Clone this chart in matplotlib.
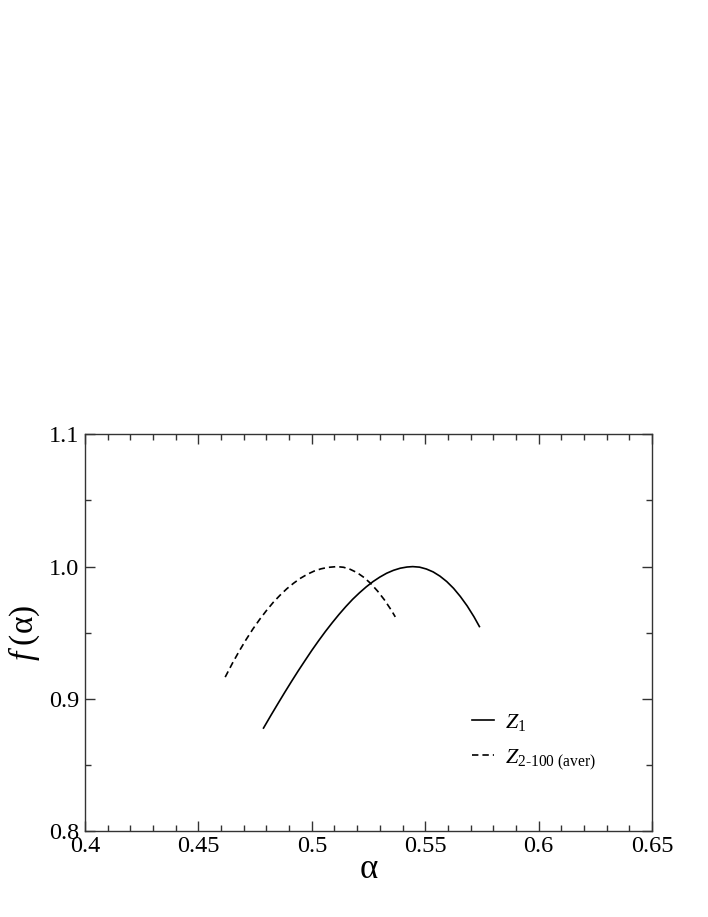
import numpy as np
import matplotlib
matplotlib.use('Agg')
import matplotlib.pyplot as plt
from matplotlib.ticker import MultipleLocator, FormatStrFormatter, FuncFormatter

plt.rcParams['font.family'] = ['Liberation Serif', 'DejaVu Serif']
plt.rcParams['mathtext.fontset'] = 'custom'
plt.rcParams['mathtext.rm'] = 'Liberation Serif'
plt.rcParams['mathtext.it'] = 'Liberation Serif:italic'
plt.rcParams['lines.scale_dashes'] = False

# Z1 spectrum (solid)
alpha_z1 = [0.4787, 0.482, 0.485, 0.488, 0.491, 0.494, 0.497, 0.500, 0.503,
            0.506, 0.509, 0.512, 0.515, 0.518, 0.521, 0.524, 0.527, 0.530,
            0.533, 0.536, 0.539, 0.542, 0.5445, 0.5475, 0.5505, 0.5535,
            0.5565, 0.5595, 0.5625, 0.5655, 0.5685, 0.5715, 0.5739]
f_z1 = [0.8780, 0.8877, 0.8963, 0.9048, 0.9131, 0.9212, 0.9290, 0.9367, 0.9440,
        0.9510, 0.9576, 0.9639, 0.9698, 0.9753, 0.9802, 0.9847, 0.9887, 0.9921,
        0.9950, 0.9972, 0.9988, 0.9997, 1.0000, 0.9996, 0.9982, 0.9960,
        0.9928, 0.9887, 0.9836, 0.9774, 0.9703, 0.9621, 0.9547]

# Z2-100 averaged spectrum (dashed)
alpha_z2 = [0.4618, 0.465, 0.468, 0.471, 0.474, 0.477, 0.480, 0.483, 0.486,
            0.489, 0.492, 0.495, 0.498, 0.501, 0.504, 0.507, 0.511, 0.514,
            0.517, 0.520, 0.523, 0.526, 0.529, 0.532, 0.535, 0.5368]
f_z2 = [0.9165, 0.9270, 0.9362, 0.9448, 0.9528, 0.9601, 0.9668, 0.9730, 0.9784,
        0.9833, 0.9875, 0.9912, 0.9942, 0.9966, 0.9983, 0.9994, 1.0000, 0.9995,
        0.9979, 0.9954, 0.9918, 0.9872, 0.9815, 0.9749, 0.9672, 0.9620]

labels = [r'$Z_1$', r'$Z_{\mathrm{2\text{-}100\ (aver)}}$']

fig = plt.figure(figsize=(7.08, 9.17), dpi=100)
ax = fig.add_axes([0.1201, 0.0935, 0.8008, 0.4329])

l1, = ax.plot(alpha_z1, f_z1, color='black', lw=1.2)
l2, = ax.plot(alpha_z2, f_z2, color='black', lw=1.2, dashes=(4.6, 2.9))

ax.set_xlim(0.4, 0.65)
ax.set_ylim(0.8, 1.1)
ax.xaxis.set_major_locator(MultipleLocator(0.05))
ax.xaxis.set_minor_locator(MultipleLocator(0.01))
ax.yaxis.set_major_locator(MultipleLocator(0.1))
ax.yaxis.set_minor_locator(MultipleLocator(0.05))
ax.xaxis.set_major_formatter(FuncFormatter(lambda v, p: '%g' % round(v, 3)))
ax.yaxis.set_major_formatter(FormatStrFormatter('%.1f'))

ax.tick_params(which='both', direction='in', top=True, right=True,
               labelsize=17.5, color='#333333')
ax.tick_params(which='major', length=7.2, width=1.0)
ax.tick_params(which='minor', length=4, width=1.0)
ax.tick_params(axis='y', pad=4)
ax.tick_params(axis='x', pad=3.5)
for s in ax.spines.values():
    s.set_linewidth(1.0)
    s.set_color('#333333')

ax.set_xlabel('α', fontsize=25, labelpad=-3)
ax.set_ylabel(r'$f\;\mathrm{(α)}$', fontsize=24, labelpad=5)

ax.legend([l1, l2], labels, loc='upper left', bbox_to_anchor=(0.682, 0.30),
          frameon=False, fontsize=16, handlelength=1.0, handletextpad=0.5,
          labelspacing=0.62, borderpad=0, borderaxespad=0)

fig.savefig('out.png', dpi=100)
